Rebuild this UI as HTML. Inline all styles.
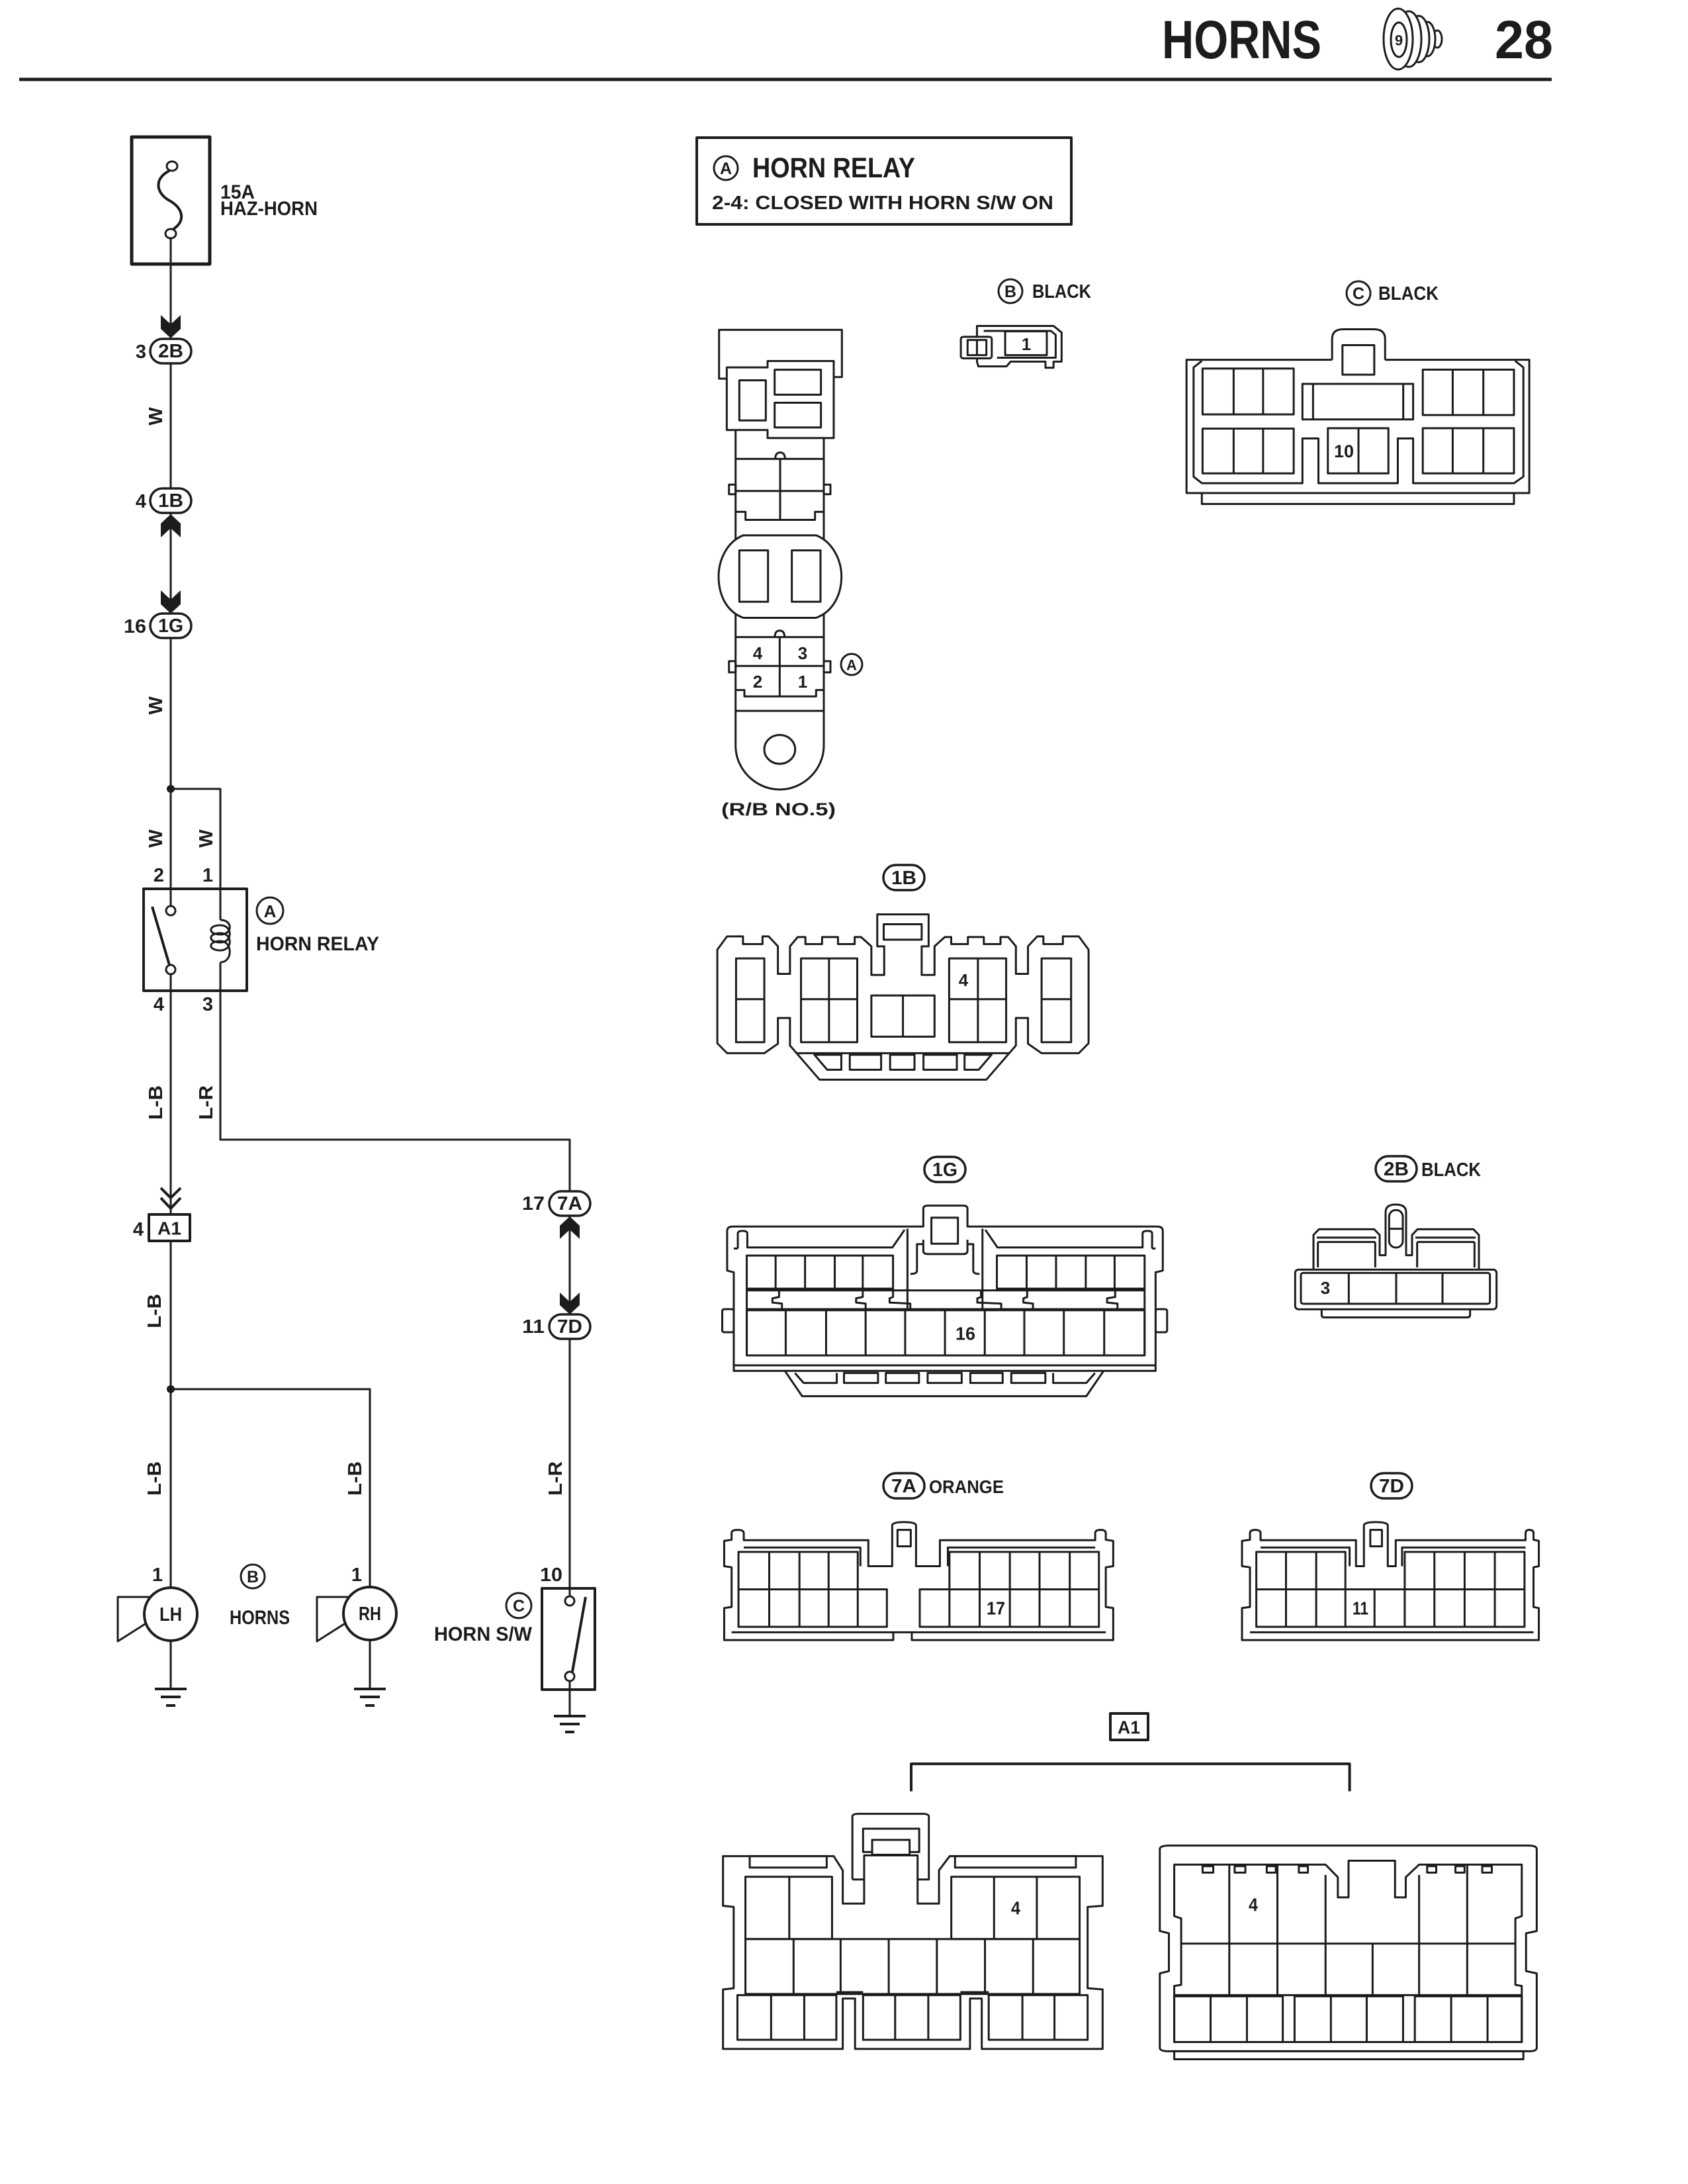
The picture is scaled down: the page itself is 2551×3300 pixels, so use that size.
<!DOCTYPE html>
<html><head><meta charset="utf-8"><style>
html,body{margin:0;padding:0;background:#fff;}
svg{display:block;}
.s{fill:none;stroke:#1c1c1c;stroke-width:3;stroke-linejoin:round;}
.w{fill:#fff;stroke:#1c1c1c;stroke-width:3;stroke-linejoin:round;}
.t *{vector-effect:non-scaling-stroke;}
text{font-family:"Liberation Sans",Arial,sans-serif;font-weight:bold;fill:#1c1c1c;}
.c{text-anchor:middle;dominant-baseline:central;}
.f{fill:#1c1c1c;stroke:none;}
</style></head><body>
<svg width="2551" height="3300" viewBox="0 0 2551 3300" xmlns="http://www.w3.org/2000/svg">
<rect x="0" y="0" width="2551" height="3300" fill="#fff"/>

<!-- HEADER -->
<line x1="29" y1="120" x2="2345" y2="120" stroke="#1c1c1c" stroke-width="5"/>
<text x="1756" y="88" font-size="82" textLength="241" lengthAdjust="spacingAndGlyphs">HORNS</text>
<text x="2259" y="88" font-size="82" textLength="88" lengthAdjust="spacingAndGlyphs">28</text>
<g class="w" style="stroke-width:3">
<ellipse cx="2172" cy="59" rx="7" ry="13"/>
<ellipse cx="2157" cy="59" rx="12" ry="26"/>
<ellipse cx="2144" cy="59" rx="16" ry="35"/>
<ellipse cx="2129" cy="59" rx="19" ry="42"/>
<ellipse cx="2113" cy="59" rx="22" ry="46"/>
<ellipse cx="2114" cy="60" rx="12" ry="26"/>
</g>
<text x="2114" y="61" font-size="22" class="c">9</text>

<!-- FUSE -->
<rect x="199" y="207" width="118" height="192" class="s" style="stroke-width:5"/>
<ellipse cx="260" cy="251" rx="8" ry="7" class="w"/>
<ellipse cx="258" cy="353" rx="8" ry="7" class="w"/>
<path d="M256,258 C232,270 236,292 256,303 C278,315 280,335 262,346" class="s" style="stroke-width:4"/>
<text x="333" y="300" font-size="30" textLength="52" lengthAdjust="spacingAndGlyphs">15A</text>
<text x="333" y="325" font-size="30" textLength="147" lengthAdjust="spacingAndGlyphs">HAZ-HORN</text>

<!-- MAIN WIRES -->
<g class="s">
<path d="M258,360 L258,512"/>
<path d="M258,549 L258,738"/>
<path d="M258,775 L258,927"/>
<path d="M258,963 L258,1369"/>
<path d="M258,1192 L333,1192 L333,1390"/>
<path d="M333,1454 L333,1722 L861,1722 L861,1800"/>
<path d="M861,1837 L861,1986"/>
<path d="M861,2022 L861,2412"/>
<path d="M861,2540 L861,2593"/>
<path d="M258,1472 L258,1835"/>
<path d="M258,1875 L258,2399"/>
<path d="M258,2099 L559,2099 L559,2398"/>
<path d="M258,2479 L258,2552"/>
<path d="M559,2478 L559,2552"/>
</g>
<circle cx="258" cy="1192" r="6" class="f"/>
<circle cx="258" cy="2099" r="6" class="f"/>

<!-- arrows -->
<polygon class="f" points="243,476 258,490 273,476 273,497 258,511 243,497"/>
<polygon class="f" points="243,812 258,798 273,812 273,791 258,777 243,791"/>
<polygon class="f" points="243,892 258,906 273,892 273,913 258,927 243,913"/>
<polygon class="f" points="846,1872 861,1858 876,1872 876,1852 861,1838 846,1852"/>
<polygon class="f" points="846,1953 861,1967 876,1953 876,1972 861,1986 846,1972"/>
<polyline class="s" style="stroke-width:4" points="243,1795 258,1810 273,1795"/>
<polyline class="s" style="stroke-width:4" points="243,1810 258,1826 273,1810"/>

<!-- ovals left -->
<g class="w" style="stroke-width:3.5">
<rect x="227" y="512" width="62" height="37" rx="18.5"/>
<rect x="227" y="738" width="62" height="37" rx="18.5"/>
<rect x="227" y="927" width="62" height="37" rx="18.5"/>
<rect x="830" y="1800" width="62" height="37" rx="18.5"/>
<rect x="830" y="1986" width="62" height="37" rx="18.5"/>
</g>
<text x="258" y="531" font-size="29" class="c" textLength="38" lengthAdjust="spacingAndGlyphs">2B</text>
<text x="258" y="757" font-size="29" class="c" textLength="38" lengthAdjust="spacingAndGlyphs">1B</text>
<text x="258" y="946" font-size="29" class="c" textLength="38" lengthAdjust="spacingAndGlyphs">1G</text>
<text x="861" y="1819" font-size="29" class="c" textLength="38" lengthAdjust="spacingAndGlyphs">7A</text>
<text x="861" y="2005" font-size="29" class="c" textLength="38" lengthAdjust="spacingAndGlyphs">7D</text>
<text x="221" y="532" font-size="29" text-anchor="end" dominant-baseline="central">3</text>
<text x="221" y="758" font-size="29" text-anchor="end" dominant-baseline="central">4</text>
<text x="221" y="947" font-size="29" text-anchor="end" dominant-baseline="central" textLength="34" lengthAdjust="spacingAndGlyphs">16</text>
<text x="823" y="1819" font-size="29" text-anchor="end" dominant-baseline="central" textLength="34" lengthAdjust="spacingAndGlyphs">17</text>
<text x="823" y="2005" font-size="29" text-anchor="end" dominant-baseline="central" textLength="34" lengthAdjust="spacingAndGlyphs">11</text>

<!-- wire labels -->
<g font-size="29">
<text class="c" transform="translate(236,629) rotate(-90)">W</text>
<text class="c" transform="translate(236,1066) rotate(-90)">W</text>
<text class="c" transform="translate(236,1267) rotate(-90)">W</text>
<text class="c" transform="translate(312,1267) rotate(-90)">W</text>
<text class="c" transform="translate(236,1666) rotate(-90)" textLength="52" lengthAdjust="spacingAndGlyphs">L-B</text>
<text class="c" transform="translate(312,1666) rotate(-90)" textLength="52" lengthAdjust="spacingAndGlyphs">L-R</text>
<text class="c" transform="translate(234,1981) rotate(-90)" textLength="52" lengthAdjust="spacingAndGlyphs">L-B</text>
<text class="c" transform="translate(234,2234) rotate(-90)" textLength="52" lengthAdjust="spacingAndGlyphs">L-B</text>
<text class="c" transform="translate(537,2234) rotate(-90)" textLength="52" lengthAdjust="spacingAndGlyphs">L-B</text>
<text class="c" transform="translate(840,2234) rotate(-90)" textLength="52" lengthAdjust="spacingAndGlyphs">L-R</text>
</g>

<!-- RELAY -->
<rect x="217" y="1343" width="156" height="154" class="s" style="stroke-width:4"/>
<circle cx="258" cy="1376" r="7" class="w"/>
<circle cx="258" cy="1465" r="7" class="w"/>
<line x1="230" y1="1370" x2="256" y2="1458" class="s" style="stroke-width:4"/>
<path class="s" d="M333,1390 C352,1390 352,1412 333,1412 C314,1412 314,1398 333,1398 M333,1398 C352,1398 352,1424 333,1424 C314,1424 314,1410 333,1410 M333,1410 C352,1410 352,1436 333,1436 C314,1436 314,1422 333,1422 M333,1422 C352,1422 352,1454 333,1454"/>
<text x="240" y="1323" font-size="29" class="c">2</text>
<text x="314" y="1323" font-size="29" class="c">1</text>
<text x="240" y="1518" font-size="29" class="c">4</text>
<text x="314" y="1518" font-size="29" class="c">3</text>
<circle cx="408" cy="1376" r="20" class="s"/>
<text x="408" y="1377" font-size="26" class="c">A</text>
<text x="387" y="1436" font-size="30" textLength="186" lengthAdjust="spacingAndGlyphs">HORN RELAY</text>

<!-- A1 inline -->
<rect x="225" y="1835" width="62" height="40" class="w" style="stroke-width:4"/>
<text x="256" y="1856" font-size="28" class="c" textLength="36" lengthAdjust="spacingAndGlyphs">A1</text>
<text x="209" y="1858" font-size="29" class="c">4</text>

<!-- HORNS -->
<g class="s">
<path d="M226,2413 L178,2413 L178,2480 L222,2452"/>
<path d="M527,2413 L479,2413 L479,2480 L523,2452"/>
</g>
<circle cx="258" cy="2439" r="40" class="w" style="stroke-width:4"/>
<circle cx="559" cy="2438" r="40" class="w" style="stroke-width:4"/>
<text x="258" y="2440" font-size="29" class="c" textLength="34" lengthAdjust="spacingAndGlyphs">LH</text>
<text x="559" y="2439" font-size="29" class="c" textLength="34" lengthAdjust="spacingAndGlyphs">RH</text>
<text x="238" y="2380" font-size="29" class="c">1</text>
<text x="539" y="2380" font-size="29" class="c">1</text>
<circle cx="382" cy="2382" r="18" class="s"/>
<text x="382" y="2383" font-size="25" class="c">B</text>
<text x="347" y="2454" font-size="30" textLength="91" lengthAdjust="spacingAndGlyphs">HORNS</text>
<!-- grounds -->
<g class="s" style="stroke-width:4">
<line x1="234" y1="2552" x2="282" y2="2552"/><line x1="243" y1="2564" x2="273" y2="2564"/><line x1="251" y1="2577" x2="265" y2="2577"/>
<line x1="535" y1="2552" x2="583" y2="2552"/><line x1="544" y1="2564" x2="574" y2="2564"/><line x1="552" y1="2577" x2="566" y2="2577"/>
<line x1="837" y1="2593" x2="885" y2="2593"/><line x1="846" y1="2605" x2="876" y2="2605"/><line x1="854" y1="2617" x2="868" y2="2617"/>
</g>

<!-- HORN SW -->
<rect x="819" y="2400" width="80" height="153" class="s" style="stroke-width:4"/>
<circle cx="861" cy="2419" r="7" class="w"/>
<circle cx="861" cy="2533" r="7" class="w"/>
<line x1="865" y1="2526" x2="885" y2="2413" class="s" style="stroke-width:4"/>
<text x="833" y="2380" font-size="29" class="c" textLength="34" lengthAdjust="spacingAndGlyphs">10</text>
<circle cx="784" cy="2426" r="19" class="s"/>
<text x="784" y="2427" font-size="25" class="c">C</text>
<text x="656" y="2479" font-size="30" textLength="148" lengthAdjust="spacingAndGlyphs">HORN S/W</text>

<!-- LEGEND -->
<rect x="1053" y="208" width="566" height="131" class="s" style="stroke-width:4"/>
<circle cx="1097" cy="254" r="18" class="s"/>
<text x="1097" y="255" font-size="25" class="c">A</text>
<text x="1137" y="268" font-size="43" textLength="246" lengthAdjust="spacingAndGlyphs">HORN RELAY</text>
<text x="1076" y="316" font-size="29" textLength="516" lengthAdjust="spacingAndGlyphs">2-4: CLOSED WITH HORN S/W ON</text>

<!-- B BLACK -->
<circle cx="1527" cy="440" r="18" class="s"/>
<text x="1527" y="441" font-size="25" class="c">B</text>
<text x="1560" y="450" font-size="29" textLength="89" lengthAdjust="spacingAndGlyphs">BLACK</text>
<g class="t" transform="translate(1040,190) scale(0.406,0.327)">
<path class="w" d="M1075,925 L1360,925 L1390,955 L1390,1090 L1360,1090 L1360,1118 L1330,1118 L1330,1090 L1200,1090 L1185,1112 L1080,1112 L1075,1090 Z"/>
<path class="s" d="M1100,948 L1350,948 L1368,966 L1368,1072 L1150,1072"/>
<rect class="w" x="1015" y="975" width="115" height="100" rx="10"/>
<rect class="s" x="1040" y="990" width="70" height="70"/>
<line class="s" x1="1075" y1="990" x2="1075" y2="1060"/>
<rect class="w" x="1180" y="950" width="155" height="110"/>
</g>
<text x="1551" y="520" font-size="26" class="c">1</text>

<!-- C BLACK -->
<circle cx="2053" cy="443" r="18" class="s"/>
<text x="2053" y="444" font-size="25" class="c">C</text>
<text x="2083" y="453" font-size="29" textLength="91" lengthAdjust="spacingAndGlyphs">BLACK</text>
<g class="t" transform="translate(1770,410) scale(0.356,0.33)">
<path class="s" d="M683,405 L65,405 L65,1015 L1520,1015 L1520,405 L908,405"/>
<path class="s" d="M130,410 L95,440 L95,940 L130,970 L557,970 L557,765 L625,765 L625,970 L962,970 L962,765 L1027,765 L1027,970 L1455,970 L1495,940 L1495,440 L1460,410"/>
<path class="s" d="M130,1015 L130,1065 L1455,1065 L1455,1015"/>
<path class="s" d="M683,405 L683,310 Q683,265 730,265 L860,265 Q908,265 908,310 L908,405"/>
<rect class="s" x="727" y="338" width="135" height="135"/>
<rect class="s" x="133" y="445" width="387" height="210"/><path class="s" d="M265,445 L265,655 M390,445 L390,655"/>
<rect class="s" x="133" y="720" width="387" height="205"/><path class="s" d="M265,720 L265,925 M390,720 L390,925"/>
<rect class="s" x="1068" y="450" width="387" height="208"/><path class="s" d="M1195,450 L1195,658 M1325,450 L1325,658"/>
<rect class="s" x="1068" y="718" width="387" height="207"/><path class="s" d="M1195,718 L1195,925 M1325,718 L1325,925"/>
<rect class="s" x="557" y="515" width="470" height="163"/><path class="s" d="M602,515 L602,678 M985,515 L985,678"/>
<rect class="s" x="665" y="718" width="257" height="207"/><path class="s" d="M795,718 L795,925"/>
</g>
<text x="2031" y="682" font-size="27" class="c" textLength="30" lengthAdjust="spacingAndGlyphs">10</text>

<!-- RELAY BLOCK A -->
<g class="t" transform="translate(1060,480) scale(0.33333,0.485)">
<path class="s" d="M115,190 L80,190 L80,38 L637,38 L637,185 L600,185"/>
<path class="s" d="M155,350 L155,1333 C155,1408 247,1470 355,1470 C463,1470 555,1408 555,1333 L555,375"/>
<path class="w" d="M115,350 L115,155 L300,155 L300,135 L600,135 L600,375 L300,375 L300,350 Z"/>
<rect class="s" x="172" y="195" width="120" height="125"/>
<rect class="s" x="332" y="162" width="210" height="78"/>
<rect class="s" x="332" y="265" width="210" height="77"/>
<path class="s" d="M155,440 L555,440 M335,440 Q335,420 357,420 Q379,420 379,440 M357,440 L357,630 M155,540 L555,540 M155,605 L200,605 L200,630 L515,630 L515,605 L555,605"/>
<rect class="s" x="125" y="520" width="30" height="30"/><rect class="s" x="555" y="520" width="30" height="30"/>
<path class="w" d="M190,678 L520,678 C600,700 635,760 635,806 C635,860 600,915 520,935 L190,935 C110,915 78,860 78,806 C78,760 110,700 190,678 Z"/>
<rect class="s" x="172" y="725" width="130" height="160"/>
<rect class="s" x="410" y="725" width="130" height="160"/>
<path class="s" d="M155,995 L555,995 M333,995 Q333,975 355,975 Q377,975 377,995 M355,995 L355,1180 M155,1085 L555,1085 M155,1160 L195,1160 L195,1180 L520,1180 L520,1160 L555,1160 M155,1225 L555,1225"/>
<rect class="s" x="125" y="1070" width="30" height="35"/><rect class="s" x="555" y="1070" width="30" height="35"/>
<ellipse class="s" cx="355" cy="1345" rx="70" ry="45"/>
</g>
<text x="1145" y="987" font-size="26" class="c">4</text>
<text x="1213" y="987" font-size="26" class="c">3</text>
<text x="1145" y="1030" font-size="26" class="c">2</text>
<text x="1213" y="1030" font-size="26" class="c">1</text>
<circle cx="1287" cy="1004" r="16" class="s"/>
<text x="1287" y="1005" font-size="22" class="c">A</text>
<text x="1090" y="1232" font-size="27" textLength="173" lengthAdjust="spacingAndGlyphs">(R/B NO.5)</text>

<!-- 1B CONNECTOR -->
<rect x="1335" y="1307" width="62" height="38" rx="19" class="w" style="stroke-width:3.5"/>
<text x="1366" y="1327" font-size="29" class="c" textLength="38" lengthAdjust="spacingAndGlyphs">1B</text>
<g class="t" transform="translate(1060,1290) scale(0.388,0.333)">
<path class="s" d="M62,435 L100,375 L162,375 L162,410 L238,410 L238,375 L262,375 L298,420 L298,545 L345,545 L345,420 L375,378 L405,378 L405,410 L470,410 L470,378 L532,378 L532,410 L597,410 L597,378 L622,378 L662,420 L662,550 L712,550 L712,420 L685,420 L685,275 L885,275 L885,420 L858,420 L858,550 L908,550 L908,420 L948,378 L973,378 L973,410 L1038,410 L1038,378 L1100,378 L1100,410 L1165,410 L1165,378 L1195,378 L1225,420 L1225,545 L1272,545 L1272,420 L1308,375 L1332,375 L1332,410 L1408,410 L1408,375 L1470,375 L1508,435 L1508,860 L1470,905 L1325,905 L1272,862 L1272,745 L1225,745 L1225,870 L1110,1025 L460,1025 L345,870 L345,745 L298,745 L298,862 L245,905 L100,905 L62,860 Z"/>
<rect class="s" x="710" y="320" width="148" height="70"/>
<path class="s" d="M371,905 L1199,905 M440,912 L490,980 L545,980 L545,912 Z M1025,912 L1025,980 L1080,980 L1130,912 Z"/>
<rect class="s" x="578" y="912" width="122" height="68"/>
<rect class="s" x="735" y="912" width="95" height="68"/>
<rect class="s" x="865" y="912" width="130" height="68"/>
<rect class="s" x="135" y="475" width="110" height="380"/><path class="s" d="M135,660 L245,660"/>
<rect class="s" x="388" y="475" width="219" height="380"/><path class="s" d="M497,475 L497,855 M388,660 L607,660"/>
<rect class="s" x="662" y="643" width="246" height="187"/><path class="s" d="M785,643 L785,830"/>
<rect class="s" x="965" y="475" width="222" height="380"/><path class="s" d="M1077,475 L1077,855 M965,660 L1187,660"/>
<rect class="s" x="1325" y="475" width="115" height="380"/><path class="s" d="M1325,660 L1440,660"/>
</g>
<text x="1456" y="1481" font-size="26" class="c">4</text>

<!-- 1G CONNECTOR -->
<rect x="1397" y="1748" width="62" height="38" rx="19" class="w" style="stroke-width:3.5"/>
<text x="1428" y="1768" font-size="29" class="c" textLength="38" lengthAdjust="spacingAndGlyphs">1G</text>
<g class="t" transform="translate(1088,1740) scale(0.436,0.333)">
<rect class="s" x="8" y="715" width="40" height="105" rx="8"/>
<rect class="s" x="1510" y="715" width="40" height="105" rx="8"/>
<path class="w" d="M25,360 Q25,340 45,340 L705,340 L705,260 Q705,245 720,245 L843,245 Q858,245 858,260 L858,340 L1515,340 Q1535,340 1535,360 L1535,540 L1510,548 L1510,995 L48,995 L48,548 L25,540 Z"/>
<path class="s" d="M62,440 L62,372 Q62,360 78,360 Q95,360 95,372 L95,435 L598,435 L640,355 M48,440 L62,440"/>
<path class="s" d="M1498,440 L1498,372 Q1498,360 1482,360 Q1465,360 1465,372 L1465,435 L962,435 L920,355 M1510,440 L1498,440"/>
<path class="s" d="M650,350 L650,715 M910,350 L910,715"/>
<path class="s" d="M705,420 L683,420 L683,540 Q683,555 660,555 M858,420 L878,420 L878,540 Q878,555 900,555"/>
<path class="s" d="M705,400 L705,450 Q705,465 720,465 L843,465 Q858,465 858,450 L858,400"/>
<rect class="s" x="733" y="300" width="92" height="118"/>
<rect class="s" x="93" y="472" width="507" height="150"/><path class="s" d="M193,472 L193,622 M295,472 L295,622 M398,472 L398,622 M495,472 L495,622"/>
<rect class="s" x="960" y="472" width="512" height="150"/><path class="s" d="M1063,472 L1063,622 M1165,472 L1165,622 M1268,472 L1268,622 M1368,472 L1368,622"/>
<path class="s" d="M93,630 L1472,630 M93,715 L1472,715 M93,622 L93,925 M1472,622 L1472,925"/>
<path class="s" d="M205,630 L205,660 L182,666 L182,685 L215,690 L215,715 M495,630 L495,660 L472,666 L472,685 L505,690 L505,715 M600,630 L600,660 L588,666 L588,685 L660,690 L660,715 M905,630 L905,660 L892,666 L892,685 L975,690 L975,715 M1065,630 L1065,660 L1052,666 L1052,685 L1085,690 L1085,715 M1370,630 L1370,660 L1342,666 L1342,685 L1378,690 L1378,715"/>
<rect class="s" x="93" y="720" width="1379" height="205"/>
<path class="s" d="M228,720 L228,925 M368,720 L368,925 M505,720 L505,925 M642,720 L642,925 M780,720 L780,925 M918,720 L918,925 M1055,720 L1055,925 M1192,720 L1192,925 M1332,720 L1332,925"/>
<path class="s" d="M48,970 L1510,970"/>
<path class="s" d="M225,995 L285,1110 L1270,1110 L1330,995"/>
<path class="s" d="M260,1005 L290,1050 L405,1050 L405,1005 M1155,1005 L1155,1050 L1270,1050 L1300,1005"/>
<rect class="s" x="430" y="1005" width="118" height="45"/>
<rect class="s" x="575" y="1005" width="115" height="45"/>
<rect class="s" x="720" y="1005" width="118" height="45"/>
<rect class="s" x="868" y="1005" width="112" height="45"/>
<rect class="s" x="1010" y="1005" width="118" height="45"/>
</g>
<text x="1459" y="2015" font-size="28" class="c" textLength="30" lengthAdjust="spacingAndGlyphs">16</text>

<!-- 2B CONNECTOR -->
<rect x="2079" y="1747" width="62" height="38" rx="19" class="w" style="stroke-width:3.5"/>
<text x="2110" y="1767" font-size="29" class="c" textLength="38" lengthAdjust="spacingAndGlyphs">2B</text>
<text x="2148" y="1777" font-size="29" textLength="90" lengthAdjust="spacingAndGlyphs">BLACK</text>
<g class="t" transform="translate(1940,1740) scale(0.33333,0.33333)">
<path class="s" d="M172,715 L172,740 Q172,752 185,752 L832,752 Q845,752 845,740 L845,715"/>
<path class="w" d="M135,535 L135,378 L160,352 L410,352 L435,378 L435,470 L462,470 L462,275 Q462,240 508,240 Q555,240 555,275 L555,470 L582,470 L582,378 L607,352 L860,352 L885,378 L885,535"/>
<path class="s" d="M150,390 L420,390 M155,410 L155,525 M415,410 L415,525 M155,410 L415,410 M597,390 L870,390 M605,410 L605,525 M865,410 L865,525 M605,410 L865,410"/>
<rect class="s" x="478" y="265" width="62" height="170" rx="30"/>
<path class="s" d="M478,350 L540,350"/>
<rect class="w" x="52" y="535" width="913" height="180" rx="15"/>
<rect class="s" x="78" y="550" width="857" height="140" rx="10"/>
<path class="s" d="M295,550 L295,690 M510,550 L510,690 M720,550 L720,690"/>
</g>
<text x="2003" y="1946" font-size="26" class="c">3</text>

<!-- 7A / 7D -->
<rect x="1335" y="2226" width="62" height="38" rx="19" class="w" style="stroke-width:3.5"/>
<text x="1366" y="2246" font-size="29" class="c" textLength="38" lengthAdjust="spacingAndGlyphs">7A</text>
<text x="1404" y="2256" font-size="28" textLength="113" lengthAdjust="spacingAndGlyphs">ORANGE</text>
<rect x="2072" y="2226" width="62" height="38" rx="19" class="w" style="stroke-width:3.5"/>
<text x="2103" y="2246" font-size="29" class="c" textLength="38" lengthAdjust="spacingAndGlyphs">7D</text>
<g class="t" transform="translate(1080,2220) scale(0.801,0.333)">
<path class="s" d="M18,325 L32,320 L32,290 Q32,275 43,275 Q55,275 55,290 L55,322 L290,322 L290,440 L335,440 L335,255 Q335,240 357,240 Q380,240 380,255 L380,440 L425,440 L425,322 L718,322 L718,290 Q718,275 728,275 Q738,275 738,290 L738,320 L752,325 L752,440 L738,445 L738,625 L752,630 L752,775 L372,775 L372,740 L337,740 L337,775 L18,775 L18,630 L32,625 L32,445 L18,440 Z"/>
<path class="s" d="M55,355 L275,355 L275,440 M440,440 L440,355 L718,355 M32,740 L337,740 M372,740 L738,740"/>
<rect class="s" x="345" y="275" width="25" height="75"/>
<rect class="s" x="45" y="375" width="225" height="170"/><path class="s" d="M103,375 L103,545 M160,375 L160,545 M215,375 L215,545"/>
<rect class="s" x="45" y="545" width="280" height="170"/><path class="s" d="M103,545 L103,715 M160,545 L160,715 M215,545 L215,715 M270,545 L270,715"/>
<rect class="s" x="443" y="375" width="282" height="170"/><path class="s" d="M500,375 L500,545 M557,375 L557,545 M613,375 L613,545 M670,375 L670,545"/>
<rect class="s" x="387" y="545" width="338" height="170"/><path class="s" d="M443,545 L443,715 M500,545 L500,715 M557,545 L557,715 M613,545 L613,715 M670,545 L670,715"/>

<path class="s" d="M995,325 L1010,320 L1010,290 Q1010,275 1020,275 Q1030,275 1030,290 L1030,322 L1210,322 L1210,440 L1225,440 L1225,255 Q1225,240 1247,240 Q1270,240 1270,255 L1270,440 L1285,440 L1285,322 L1530,322 L1530,290 Q1530,275 1537,275 Q1545,275 1545,290 L1545,320 L1555,325 L1555,440 L1545,445 L1545,625 L1555,630 L1555,775 L995,775 L995,630 L1010,625 L1010,445 L995,440 Z"/>
<path class="s" d="M1030,355 L1198,355 L1198,440 M1297,440 L1297,355 L1530,355 M1010,740 L1545,740"/>
<rect class="s" x="1237" y="275" width="22" height="75"/>
<rect class="s" x="1022" y="375" width="168" height="170"/><path class="s" d="M1078,375 L1078,545 M1135,375 L1135,545"/>
<rect class="s" x="1302" y="375" width="226" height="170"/><path class="s" d="M1358,375 L1358,545 M1415,375 L1415,545 M1472,375 L1472,545"/>
<rect class="s" x="1022" y="545" width="506" height="170"/><path class="s" d="M1078,545 L1078,715 M1135,545 L1135,715 M1190,545 L1190,715 M1245,545 L1245,715 M1302,545 L1302,715 M1358,545 L1358,715 M1415,545 L1415,715 M1472,545 L1472,715"/>
</g>
<text x="1505" y="2430" font-size="28" class="c" textLength="28" lengthAdjust="spacingAndGlyphs">17</text>
<text x="2056" y="2430" font-size="28" class="c" textLength="24" lengthAdjust="spacingAndGlyphs">11</text>

<!-- A1 -->
<rect x="1678" y="2589" width="57" height="40" class="s" style="stroke-width:4"/>
<text x="1706" y="2610" font-size="28" class="c" textLength="34" lengthAdjust="spacingAndGlyphs">A1</text>
<g class="t" transform="translate(1070,2570) scale(0.808,0.346)">
<path class="s" style="stroke-width:4" d="M380,395 L380,275 L1200,275 L1200,395"/>
<path class="s" d="M28,678 L235,678 L252,740 L252,885 L292,885 L292,675 L392,675 L392,885 L432,885 L432,740 L452,678 L738,678 L738,895 L710,900 L710,1255 L738,1260 L738,1520 L512,1520 L512,1300 L490,1300 L490,1520 L275,1520 L275,1300 L252,1300 L252,1520 L28,1520 L28,1260 L48,1255 L48,900 L28,895 Z"/>
<path class="s" d="M270,780 L270,505 Q270,493 282,493 L401,493 Q413,493 413,505 L413,780 L392,780 M292,780 L270,780"/>
<rect class="s" x="290" y="558" width="105" height="102"/>
<rect class="w" x="307" y="607" width="70" height="65"/>
<rect class="s" x="78" y="678" width="144" height="50"/>
<rect class="s" x="462" y="678" width="226" height="50"/>
<rect class="s" x="70" y="768" width="162" height="272"/><path class="s" d="M152,768 L152,1040"/>
<rect class="s" x="455" y="768" width="240" height="272"/><path class="s" d="M535,768 L535,1040 M615,768 L615,1040"/>
<rect class="s" x="70" y="1040" width="625" height="240"/><path class="s" d="M160,1040 L160,1280 M248,1040 L248,1280 M338,1040 L338,1280 M428,1040 L428,1280 M518,1040 L518,1280 M608,1040 L608,1280"/>
<rect class="s" x="55" y="1285" width="185" height="195"/><path class="s" d="M118,1285 L118,1480 M180,1285 L180,1480"/>
<rect class="s" x="290" y="1285" width="182" height="195"/><path class="s" d="M350,1285 L350,1480 M412,1285 L412,1480"/>
<rect class="s" x="525" y="1285" width="185" height="195"/><path class="s" d="M588,1285 L588,1480 M648,1285 L648,1480"/>
<path class="s" d="M240,1272 L290,1272 M472,1272 L525,1272"/>

<path class="s" d="M862,632 L1535,632 Q1550,632 1550,648 L1550,1005 L1530,1015 L1530,1180 L1550,1190 L1550,1515 Q1550,1530 1535,1530 L862,1530 Q845,1530 845,1515 L845,1190 L862,1180 L862,1015 L845,1005 L845,648 Q845,632 862,632 Z"/>
<rect class="s" x="872" y="1530" width="653" height="35"/>
<path class="s" d="M872,1490 L872,1245 L885,1240 L885,950 L872,940 L872,715 L1155,715 L1178,770 L1178,858 L1198,858 L1198,698 L1285,698 L1285,858 L1305,858 L1305,770 L1330,715 L1522,715 L1522,940 L1510,950 L1510,1240 L1522,1245 L1522,1490 Z"/>
<rect class="s" x="925" y="722" width="20" height="28"/>
<rect class="s" x="985" y="722" width="20" height="28"/>
<rect class="s" x="1045" y="722" width="17" height="28"/>
<rect class="s" x="1105" y="722" width="17" height="28"/>
<rect class="s" x="1345" y="722" width="17" height="28"/>
<rect class="s" x="1398" y="722" width="17" height="28"/>
<rect class="s" x="1448" y="722" width="18" height="28"/>
<path class="s" d="M975,715 L975,1285 M1065,715 L1065,1285 M1155,760 L1155,1285 M1330,760 L1330,1285 M1420,715 L1420,1285 M1243,1060 L1243,1285"/>
<path class="s" d="M885,1060 L1510,1060 M872,1285 L1522,1285"/>
<rect class="s" x="872" y="1290" width="203" height="200"/><path class="s" d="M940,1290 L940,1490 M1008,1290 L1008,1490"/>
<rect class="s" x="1097" y="1290" width="203" height="200"/><path class="s" d="M1165,1290 L1165,1490 M1232,1290 L1232,1490"/>
<rect class="s" x="1322" y="1290" width="200" height="200"/><path class="s" d="M1390,1290 L1390,1490 M1458,1290 L1458,1490"/>
</g>
<text x="1535" y="2883" font-size="28" class="c" textLength="14" lengthAdjust="spacingAndGlyphs">4</text>
<text x="1894" y="2878" font-size="28" class="c" textLength="14" lengthAdjust="spacingAndGlyphs">4</text>
</svg>
</body></html>
